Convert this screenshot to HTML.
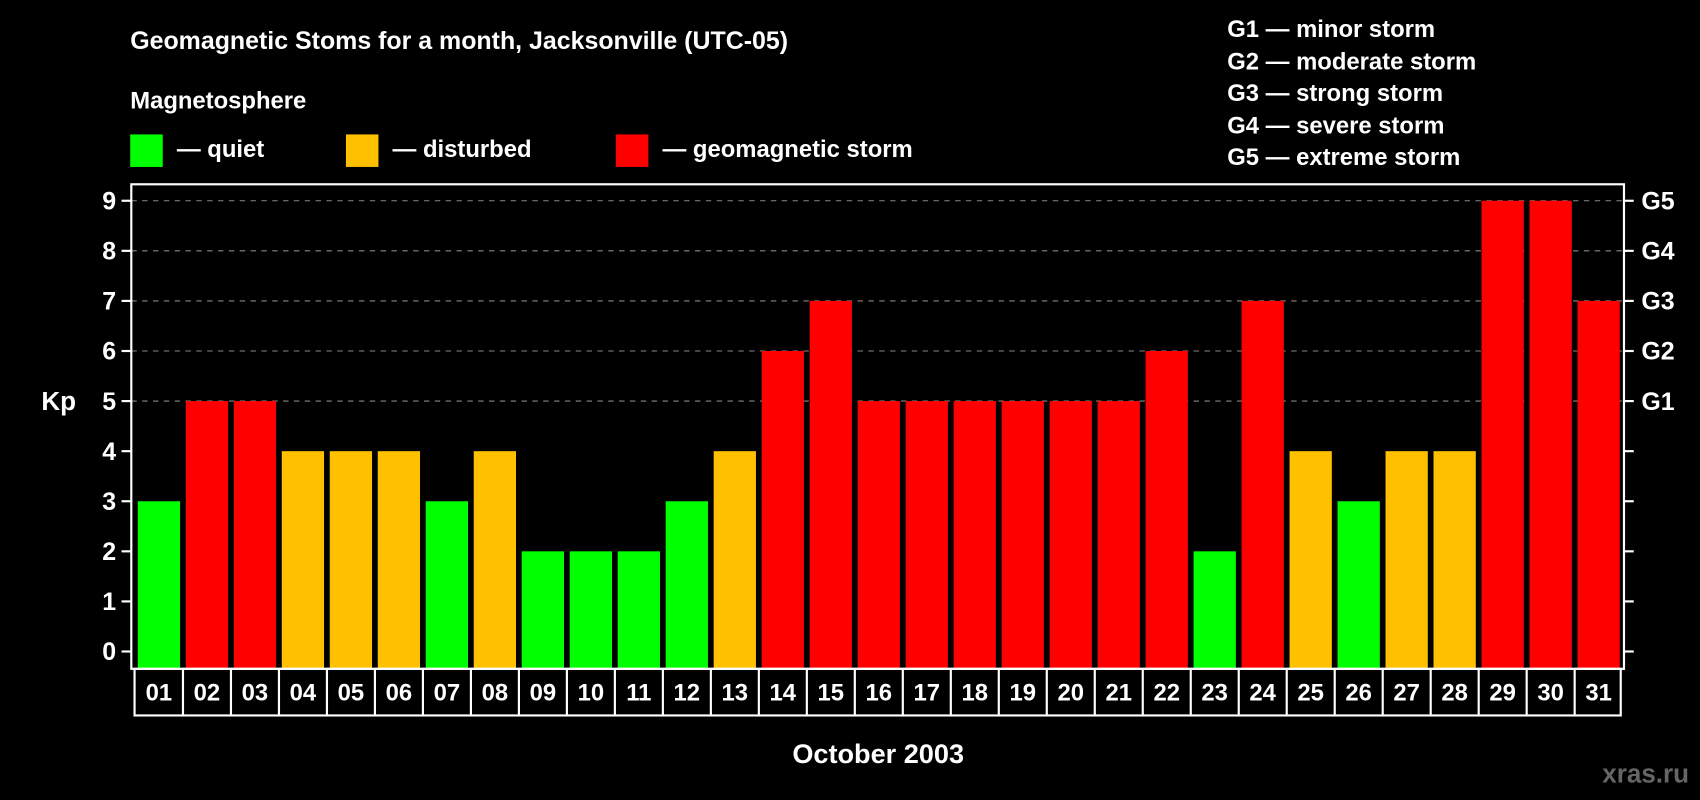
<!DOCTYPE html>
<html><head><meta charset="utf-8"><style>
html,body{margin:0;padding:0;background:#000;}
svg{display:block;font-family:"Liberation Sans",Arial,sans-serif;font-weight:bold;}
</style></head><body>
<svg id="chart" width="1700" height="800" viewBox="0 0 1568 738" xmlns="http://www.w3.org/2000/svg">
<rect width="1568" height="738" fill="#000"/>
<text x="120" y="45" fill="#fff" font-size="23">Geomagnetic Stoms for a month, Jacksonville (UTC-05)</text>
<text x="120" y="100" fill="#fff" font-size="22">Magnetosphere</text>
<g><rect x="120" y="124" width="30" height="30" fill="#00ff00"/><text x="163" y="145" fill="#fff" font-size="22">— quiet</text></g>
<g><rect x="319" y="124" width="30" height="30" fill="#ffc000"/><text x="362" y="145" fill="#fff" font-size="22">— disturbed</text></g>
<g><rect x="568" y="124" width="30" height="30" fill="#ff0000"/><text x="611" y="145" fill="#fff" font-size="22">— geomagnetic storm</text></g>
<g fill="#fff" font-size="22">
<text x="1132" y="34">G1 — minor storm</text>
<text x="1132" y="64">G2 — moderate storm</text>
<text x="1132" y="93">G3 — strong storm</text>
<text x="1132" y="123">G4 — severe storm</text>
<text x="1132" y="152">G5 — extreme storm</text>
</g>
<text x="38" y="378" fill="#fff" font-size="24">Kp</text>
<text x="810" y="704" fill="#fff" font-size="25" text-anchor="middle">October 2003</text>
<text x="1558" y="722" fill="#666" font-size="24" text-anchor="end">xras.ru</text>
<g id="grid"></g><g id="bars"></g><g id="axes"></g>
</svg>
<script>
const days=["01","02","03","04","05","06","07","08","09","10","11","12","13","14","15","16","17","18","19","20","21","22","23","24","25","26","27","28","29","30","31"];
const kp=[3,5,5,4,4,4,3,4,2,2,2,3,4,6,7,5,5,5,5,5,5,6,2,7,4,3,4,4,9,9,7];
const yTicks=[0,1,2,3,4,5,6,7,8,9];
const gLabels=["","","","","","G1","G2","G3","G4","G5"];
const NS="http://www.w3.org/2000/svg";
const L=121,R=1498,T=170,B=617,X0=127,P=44.27,BW=39;
const y=v=>601-v*46.2;
const x=i=>X0+i*P;
function mk(t,a,p){const e=document.createElementNS(NS,t);for(const k in a)e.setAttribute(k,a[k]);p.appendChild(e);return e;}
const grid=document.getElementById('grid'),bars=document.getElementById('bars'),axes=document.getElementById('axes');
yTicks.forEach((v,i)=>{
 if(v>=5){const g=mk('line',{x1:L,x2:R,y1:y(v),y2:y(v),stroke:'#888','stroke-dasharray':'5,5','stroke-width':1},grid);
 
 }
 mk('line',{x1:L-9,x2:L,y1:y(v),y2:y(v),stroke:'#fff','stroke-width':2},axes);
 mk('line',{x1:R,x2:R+9,y1:y(v),y2:y(v),stroke:'#fff','stroke-width':2},axes);
 const t=mk('text',{x:L-14,y:y(v)+8,fill:'#fff','font-size':23,'text-anchor':'end'},axes);t.textContent=v;
 
 
 if(gLabels[i]){const g=mk('text',{x:R+16,y:y(v)+8,fill:'#fff','font-size':23},axes);g.textContent=gLabels[i];
 
 }
});
days.forEach((d,i)=>{
 const v=kp[i];const c=v>=5?'#ff0000':(v==4?'#ffc000':'#00ff00');
 const r=mk('rect',{x:x(i),y:y(v),width:BW,height:B-y(v),fill:c},bars);
 
 
 const t=mk('text',{x:x(i)+BW/2,y:646,fill:'#fff','font-size':22,'text-anchor':'middle'},axes);t.textContent=d;
 
 
 if(i>0)mk('line',{x1:x(i)-2.6,x2:x(i)-2.6,y1:B,y2:660,stroke:'#fff','stroke-width':2},axes);
});
const f=mk('rect',{x:L,y:T,width:R-L,height:B-T,fill:'none',stroke:'#fff','stroke-width':2},axes);


const lb=mk('rect',{x:L+3,y:B,width:R-L-6,height:43,fill:'none',stroke:'#fff','stroke-width':2},axes);


</script>
</body></html>
